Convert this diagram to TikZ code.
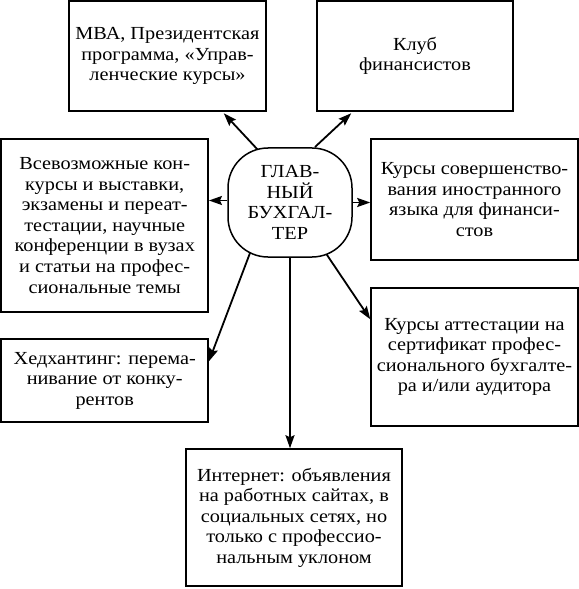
\documentclass[tikz,border=0pt]{standalone}
\usepackage{fontspec}
\setmainfont{Liberation Serif}[FakeStretch=1.1]
\usetikzlibrary{arrows.meta,calc,backgrounds}
\begin{document}
\begin{tikzpicture}[x=1bp,y=-1bp,
  box/.style={draw, line width=1.5bp, fill=white, align=center, inner sep=0pt,
    font=\rmfamily\fontsize{18.5}{20.6}\selectfont},
  hub/.style={box, rounded corners=40bp},
  arr/.style={line width=1.8bp, -{Stealth[length=13bp,width=9bp,inset=2bp]}}]
\useasboundingbox (0,0) rectangle (579,589);
\node[box, minimum width=197bp, minimum height=110bp] (b1) at (167.5,56)
  {МВА, Президентская\\программа, «Управ-\\ленческие курсы»};
\node[box, minimum width=196bp, minimum height=110bp] (b2) at (415,56)
  {Клуб\\финансистов};
\node[box, minimum width=207bp, minimum height=173bp] (b3) at (104.7,225.5)
  {Всевозможные кон-\\курсы и выставки,\\экзамены и переат-\\тестации, научные\\конференции в вузах\\и статьи на профес-\\сиональные темы};
\node[box, minimum width=207bp, minimum height=121bp] (b4) at (474.5,199.5)
  {Курсы совершенство-\\вания иностранного\\языка для финанси-\\стов};
\node[box, minimum width=207bp, minimum height=138bp] (b5) at (474.5,357)
  {Курсы аттестации на\\сертификат профес-\\сионального бухгалте-\\ра и/или аудитора};
\node[box, minimum width=207bp, minimum height=83bp] (b6) at (104.7,380.5)
  {Хедхантинг: перема-\\нивание от конку-\\рентов};
\node[box, minimum width=216bp, minimum height=137bp] (b7) at (294,517.5)
  {Интернет: объявления\\на работных сайтах, в\\социальных сетях, но\\только с профессио-\\нальным уклоном};
\node[hub, minimum width=124bp, minimum height=109bp] (c) at (290,202.5)
  {ГЛАВ-\\НЫЙ\\БУХГАЛ-\\ТЕР};
\begin{scope}[on background layer]
\draw[arr] ($(c.center)+(-32,-52.5)$) -- ([xshift=-43bp,yshift=-1.5bp]b1.south east);
\draw[arr] ($(c.center)+(25,-55.5)$) -- ([xshift=35bp,yshift=-1.5bp]b2.south west);
\draw[arr] ([yshift=2bp]c.west) -- ([yshift=2bp]c.west -| b3.east);
\draw[arr] (c.east) -- (c.east -| b4.west);
\draw[arr] ($(c.center)+(-40,50.5)$) -- ([yshift=-23bp]b6.north east);
\draw[arr] ($(c.center)+(35,49.5)$) -- ([yshift=-32bp]b5.north west);
\draw[arr] (c.south) -- (c.south |- b7.north);
\end{scope}
\end{tikzpicture}
\end{document}
